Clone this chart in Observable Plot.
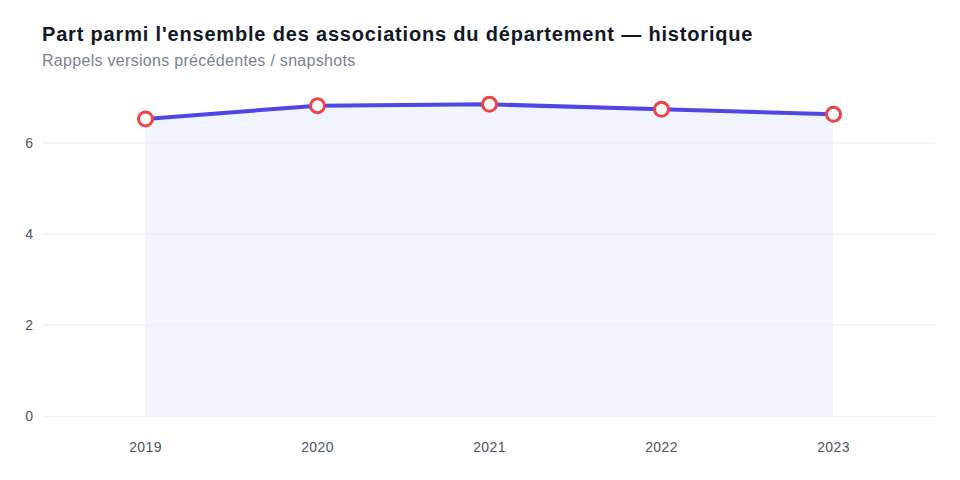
<!DOCTYPE html>
<html lang="fr">
<head>
<meta charset="utf-8">
<script src="https://cdn.jsdelivr.net/npm/d3@7"></script>
<script src="https://cdn.jsdelivr.net/npm/@observablehq/plot@0.6"></script>
<style>
  html, body { margin: 0; padding: 0; background: #ffffff; }
  body { width: 960px; height: 480px; overflow: hidden; font-family: "Liberation Sans", Arial, sans-serif; }
  .head { height: 80px; box-sizing: border-box; padding: 21px 0 0 42px; }
  .title { font-size: 20px; font-weight: bold; color: #111827; letter-spacing: 0.82px; line-height: 26px; }
  .subtitle { font-size: 16px; color: #7a8293; line-height: 20px; margin-top: 4px; letter-spacing: 0.3px; }
</style>
</head>
<body>
<div class="head">
  <div class="title">Part parmi l'ensemble des associations du département — historique</div>
  <div class="subtitle">Rappels versions précédentes / snapshots</div>
</div>
<div id="chart"></div>
<script>
// Share (%) of the department's associations, by snapshot year
const years = ["2019", "2020", "2021", "2022", "2023"];
const shares = [6.53, 6.82, 6.85, 6.74, 6.63];
const yTicks = [0, 2, 4, 6];

const rows = years.map((year, i) => ({year, share: shares[i]}));

const chart = Plot.plot({
  width: 960,
  height: 400,
  marginLeft: 42,
  marginRight: 25,
  marginTop: 17,
  marginBottom: 64,
  style: {fontFamily: "'Liberation Sans', Arial, sans-serif", fontSize: "14px", color: "#4b5563", background: "#ffffff", letterSpacing: "0.4px"},
  x: {type: "point", domain: years, padding: 0.593, label: null},
  y: {domain: [0, 7], label: null},
  marks: [
    Plot.areaY(rows, {x: "year", y: "share", fill: "#eef2ff", fillOpacity: 0.75}),
    Plot.gridY(yTicks, {stroke: "#e5e9f2", strokeOpacity: 0.6, strokeWidth: 1.5}),
    Plot.axisY(yTicks, {tickSize: 0, tickPadding: 9, fill: "#4b5563", fontSize: 14}),
    Plot.axisX(years, {tickSize: 0, tickPadding: 26, fill: "#4b5563", fontSize: 14}),
    Plot.lineY(rows, {x: "year", y: "share", stroke: "#4f46e5", strokeWidth: 4, curve: "linear"}),
    Plot.dot(rows, {x: "year", y: "share", r: 7, fill: "#ffffff", stroke: "#ef4444", strokeWidth: 3})
  ]
});
document.getElementById("chart").appendChild(chart);
</script>
</body>
</html>
